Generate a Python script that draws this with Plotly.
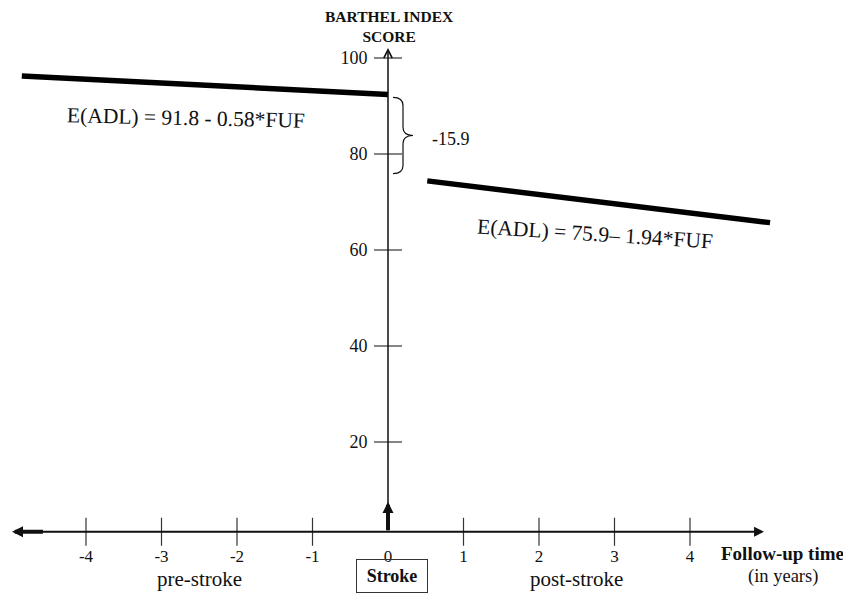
import plotly.graph_objects as go

# ---------------- data ----------------
X_TICKS = [-4, -3, -2, -1, 0, 1, 2, 3, 4]
X_TICK_LABELS = ["-4", "-3", "-2", "-1", "0", "1", "2", "3", "4"]
Y_TICKS = [20, 40, 60, 80, 100]
Y_TICK_LABELS = ["20", "40", "60", "80", "100"]

PRE_X = [-4.85, 0.0]
PRE_Y = [96.25, 92.4]
POST_X = [0.52, 5.06]
POST_Y = [74.4, 65.7]

PRE_INTERCEPT = 91.8
POST_INTERCEPT = 75.9
JUMP_LABEL = "-15.9"
PRE_EQ = "E(ADL) = 91.8 - 0.58*FUF"
POST_EQ = "E(ADL) = 75.9\u2013 1.94*FUF"

# ---------------- layout constants ----------------
PAGE_OFF = 8            # default body margin of the html page
WIN_W, WIN_H = 851, 600
W, H = WIN_W - PAGE_OFF, WIN_H - PAGE_OFF
X0_PX, PX_PER_X = 388.0, 75.5      # window pixel of x = 0
Y0_PX, PX_PER_Y = 538.0, 4.8       # window pixel of y = 0
XMIN, XMAX = (PAGE_OFF - X0_PX) / PX_PER_X, (WIN_W - X0_PX) / PX_PER_X
YMIN, YMAX = (Y0_PX - WIN_H) / PX_PER_Y, (Y0_PX - PAGE_OFF) / PX_PER_Y
AXIS_Y = 1.3          # x axis drawn slightly above 0
Y_ARROW_TOP = 102.1
X_ARROW_RIGHT = 4.98
X_ARROW_LEFT = -4.98


def vy(py):
    """window pixel row -> data y"""
    return (Y0_PX - py) / PX_PER_Y


SERIF = "Liberation Serif, Times New Roman, serif"
INK = "#111111"

fig = go.Figure()

# trend lines
fig.add_trace(go.Scatter(x=PRE_X, y=PRE_Y, mode="lines",
                         line=dict(color="black", width=5.5), hoverinfo="skip"))
fig.add_trace(go.Scatter(x=POST_X, y=POST_Y, mode="lines",
                         line=dict(color="black", width=5.5), hoverinfo="skip"))

# tick marks crossing the axes
fig.add_trace(go.Scatter(x=[0] * len(Y_TICKS), y=Y_TICKS, mode="markers",
                         marker=dict(symbol="line-ew", size=20,
                                     line=dict(width=1.2, color="#333")),
                         hoverinfo="skip"))
xt = [v for v in X_TICKS if v != 0]
fig.add_trace(go.Scatter(x=xt, y=[AXIS_Y] * len(xt), mode="markers",
                         marker=dict(symbol="line-ns", size=20,
                                     line=dict(width=1.2, color="#333")),
                         hoverinfo="skip"))

annotations = []
# y axis with open arrow
annotations.append(dict(x=0, y=Y_ARROW_TOP, ax=0, ay=AXIS_Y, xref="x", yref="y",
                        axref="x", ayref="y", text="", showarrow=True,
                        arrowhead=5, arrowsize=1.1, arrowwidth=1.5,
                        arrowcolor=INK, standoff=0))
# x axis with right arrow
annotations.append(dict(x=X_ARROW_RIGHT, y=AXIS_Y, ax=-4.6, ay=AXIS_Y, xref="x", yref="y",
                        axref="x", ayref="y", text="", showarrow=True,
                        arrowhead=2, arrowsize=0.9, arrowwidth=2.2,
                        arrowcolor=INK, standoff=0))
# thick left arrow
annotations.append(dict(x=X_ARROW_LEFT, y=AXIS_Y, ax=-4.55, ay=AXIS_Y, xref="x", yref="y",
                        axref="x", ayref="y", text="", showarrow=True,
                        arrowhead=2, arrowsize=0.55, arrowwidth=4,
                        arrowcolor=INK, standoff=0))
# thick up arrow at stroke
annotations.append(dict(x=0, y=vy(502), ax=0, ay=AXIS_Y, xref="x", yref="y",
                        axref="x", ayref="y", text="", showarrow=True,
                        arrowhead=2, arrowsize=0.55, arrowwidth=4,
                        arrowcolor=INK, standoff=0))

# axis title
annotations.append(dict(x=0.02, y=vy(26), xref="x", yref="y",
                        text="<b>BARTHEL INDEX<br>SCORE</b>", showarrow=False,
                        font=dict(family=SERIF, size=15.5, color=INK),
                        xanchor="center", yanchor="middle"))

# equations
annotations.append(dict(x=-2.67, y=87.6, xref="x", yref="y", text=PRE_EQ,
                        showarrow=False, textangle=1.3,
                        font=dict(family=SERIF, size=21.5, color=INK)))
annotations.append(dict(x=2.74, y=63.3, xref="x", yref="y", text=POST_EQ,
                        showarrow=False, textangle=3.7,
                        font=dict(family=SERIF, size=21.5, color=INK)))

# jump label
annotations.append(dict(x=0.55, y=(PRE_INTERCEPT + POST_INTERCEPT) / 2 - 0.7,
                        xref="x", yref="y", text=JUMP_LABEL, showarrow=False,
                        xanchor="left", yanchor="middle",
                        font=dict(family=SERIF, size=18, color=INK)))

# bottom labels
annotations.append(dict(x=-2.5, y=vy(579), xref="x", yref="y",
                        text="pre-stroke", showarrow=False,
                        font=dict(family=SERIF, size=21, color=INK)))
annotations.append(dict(x=2.5, y=vy(579), xref="x", yref="y",
                        text="post-stroke", showarrow=False,
                        font=dict(family=SERIF, size=21, color=INK)))
annotations.append(dict(x=0.05, y=vy(576), xref="x", yref="y",
                        text="<b>Stroke</b>", showarrow=False,
                        bordercolor="#333", borderwidth=1, width=68, height=30,
                        font=dict(family=SERIF, size=18, color=INK)))
annotations.append(dict(x=5.23, y=vy(553), xref="x", yref="y",
                        text="<b>Follow-up time</b>", showarrow=False,
                        font=dict(family=SERIF, size=19, color=INK)))
annotations.append(dict(x=5.23, y=vy(576), xref="x", yref="y",
                        text="(in years)", showarrow=False,
                        font=dict(family=SERIF, size=18.5, color=INK)))


def brace_path(x0, x1, x2, yt, yb, d):
    ym = (yt + yb) / 2
    return (f"M{x0},{yt} Q{x1},{yt} {x1},{yt - d} L{x1},{ym + d} "
            f"Q{x1},{ym} {x2},{ym} Q{x1},{ym} {x1},{ym - d} "
            f"L{x1},{yb + d} Q{x1},{yb} {x0},{yb}")


shapes = [dict(type="path", xref="x", yref="y",
               path=brace_path(5 / PX_PER_X, 15 / PX_PER_X, 25 / PX_PER_X,
                               PRE_INTERCEPT, POST_INTERCEPT, 1.7),
               line=dict(color=INK, width=1.2))]

fig.update_layout(
    width=W, height=H,
    margin=dict(l=0, r=0, t=0, b=0),
    plot_bgcolor="white", paper_bgcolor="white",
    showlegend=False,
    annotations=annotations,
    shapes=shapes,
    xaxis=dict(range=[XMIN, XMAX], showgrid=False, zeroline=False, showline=False,
               tickvals=X_TICKS, ticktext=X_TICK_LABELS,
               anchor="free", position=(AXIS_Y - YMIN) / (YMAX - YMIN),
               ticks="outside", ticklen=9, tickcolor="rgba(0,0,0,0)",
               tickfont=dict(family=SERIF, size=17, color=INK)),
    yaxis=dict(range=[YMIN, YMAX], showgrid=False, zeroline=False, showline=False,
               tickvals=Y_TICKS, ticktext=Y_TICK_LABELS,
               anchor="free", position=(0 - XMIN) / (XMAX - XMIN),
               ticks="outside", ticklen=17, tickcolor="rgba(0,0,0,0)",
               tickfont=dict(family=SERIF, size=18, color=INK)),
)

fig.write_html("out.html")
